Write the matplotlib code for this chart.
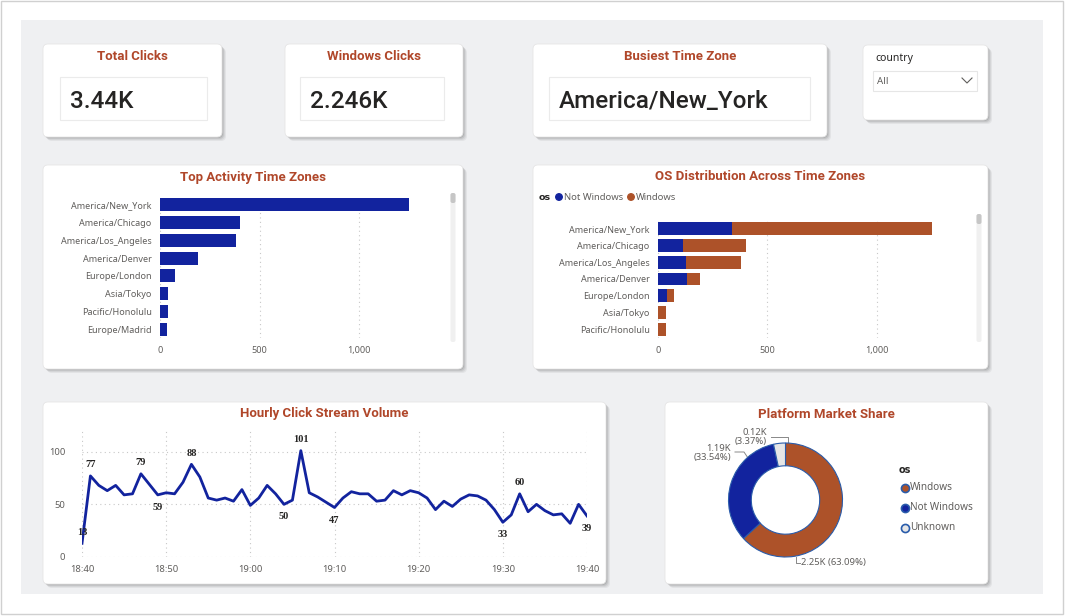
import matplotlib
matplotlib.use("Agg")
import matplotlib.pyplot as plt
from matplotlib.patches import FancyBboxPatch, Rectangle

W, H = 1065, 616

# ---- data ----
kpi_total = "3.44K"
kpi_windows = "2.246K"
kpi_busiest = "America/New_York"

zones = ["America/New_York", "America/Chicago", "America/Los_Angeles", "America/Denver",
         "Europe/London", "Asia/Tokyo", "Pacific/Honolulu", "Europe/Madrid"]
zone_clicks = [1249, 401, 381, 191, 75, 40, 40, 35]

os_zones = zones[:7]
not_windows = [338, 114, 128, 132, 41, 0, 0]
windows = [913, 288, 251, 60, 32, 37, 37]

minute_labels = ["18:40", "18:50", "19:00", "19:10", "19:20", "19:30", "19:40"]
clicks_per_min = [13, 77, 68, 63, 68, 59, 60, 79, 69, 59,
                  61, 60, 71, 88, 76, 56, 54, 56, 53, 64,
                  49, 56, 68, 60, 50, 54, 101, 61, 57, 52,
                  47, 56, 62, 60, 60, 53, 54, 63, 59, 63,
                  61, 56, 45, 53, 48, 55, 59, 58, 54, 45,
                  33, 40, 60, 43, 50, 44, 40, 41, 32, 50, 39]
# which points carry a data label, and on which side
labelled = {0: "above", 1: "above", 7: "above", 9: "below", 13: "above", 24: "below",
            26: "above", 30: "below", 50: "below", 52: "above", 60: "below"}

share_names = ["Windows", "Not Windows", "Unknown"]
share_vals = [2.25, 1.19, 0.12]
share_pct = [63.09, 33.54, 3.37]

ORANGE = "#AD5229"
BLUE = "#12239E"
TITLE = "#B0472A"
TICK = "#605E5C"
GRID = "#C8C8C8"

plt.rcParams["font.family"] = ["Noto Sans", "DejaVu Sans"]

fig = plt.figure(figsize=(W / 100, H / 100), dpi=100)
bg = fig.add_axes([0, 0, 1, 1])
bg.set_xlim(0, W)
bg.set_ylim(H, 0)
bg.axis("off")

bg.add_patch(Rectangle((1, 1), W - 3, H - 3, fc="white", ec="#D0D0D0", lw=1))
bg.add_patch(Rectangle((21, 20), 1022, 574, fc="#EFF0F2", ec="none"))


def px_axes(x0, y0, x1, y1):
    return fig.add_axes([x0 / W, 1 - y1 / H, (x1 - x0) / W, (y1 - y0) / H])


def card(x0, y0, x1, y1, title=None):
    for i, a in enumerate([0.05, 0.06, 0.08, 0.10]):
        off = 4 - i
        bg.add_patch(FancyBboxPatch((x0 + off, y0 + off), x1 - x0, y1 - y0,
                                    boxstyle="round,pad=0,rounding_size=5",
                                    fc="black", ec="none", alpha=a))
    bg.add_patch(FancyBboxPatch((x0, y0), x1 - x0, y1 - y0,
                                boxstyle="round,pad=0,rounding_size=5",
                                fc="white", ec="#E6E6E6", lw=0.6))
    if title:
        bg.text((x0 + x1) / 2, y0 + 12, title, color=TITLE, fontsize=9.5,
                fontweight="bold", family="Roboto", ha="center", va="center")


def kpi(x0, y0, x1, y1, title, value, bx0, bx1):
    card(x0, y0, x1, y1, title)
    bg.add_patch(Rectangle((bx0, 77), bx1 - bx0, 43, fc="white", ec="#EBEBEB", lw=0.8))
    bg.text(bx0 + 10, 102, value, fontsize=17.5, family="Roboto", fontweight="medium",
            color="#252423", ha="left", va="center")


kpi(43, 44, 222, 137, "Total Clicks", kpi_total, 60, 207)
kpi(285, 44, 463, 137, "Windows Clicks", kpi_windows, 300, 444)
kpi(533, 44, 827, 137, "Busiest Time Zone", kpi_busiest, 549, 810)

# slicer
card(863, 45, 988, 120)
bg.text(875, 58, "country", fontsize=7.5, color="#252423", va="center")
bg.add_patch(Rectangle((873, 71), 104, 20, fc="white", ec="#E6E6E6", lw=0.8))
bg.text(877, 82, "All", fontsize=7, color=TICK, va="center")
bg.plot([962, 967, 972], [78, 83, 78], color=TICK, lw=0.8)

# ---- Top Activity Time Zones ----
card(43, 165, 463, 369, "Top Activity Time Zones")
ax = px_axes(160, 196, 445, 338)
ax.patch.set_alpha(0)
ax.barh(range(len(zones)), zone_clicks, height=0.73, color=BLUE)
ax.set_ylim(len(zones) - 0.5, -0.5)
ax.set_xlim(0, 1430)
ax.set_xticks([0, 500, 1000])
ax.set_xticklabels(["0", "500", "1,000"])
ax.set_yticks(range(len(zones)))
ax.set_yticklabels(zones)
ax.grid(axis="x", color=GRID, ls=(0, (1, 3)), lw=0.8)
ax.set_axisbelow(True)
for s in ax.spines.values():
    s.set_visible(False)
ax.tick_params(length=0, labelsize=6.5, labelcolor=TICK, pad=6)
bg.add_patch(FancyBboxPatch((450.5, 193), 5, 149, boxstyle="round,pad=0,rounding_size=2",
                            fc="#F0F0F0", ec="none"))
bg.add_patch(FancyBboxPatch((450.5, 193), 5, 10, boxstyle="round,pad=0,rounding_size=2",
                            fc="#C6C6C6", ec="none"))

# ---- OS Distribution ----
card(533, 165, 988, 369, "OS Distribution Across Time Zones")
ax2 = px_axes(658, 220, 970, 338)
ax2.patch.set_alpha(0)
ax2.barh(range(len(os_zones)), not_windows, height=0.77, color=BLUE)
ax2.barh(range(len(os_zones)), windows, left=not_windows, height=0.77, color=ORANGE)
ax2.set_ylim(len(os_zones) - 0.5, -0.5)
ax2.set_xlim(0, 1425)
ax2.set_xticks([0, 500, 1000])
ax2.set_xticklabels(["0", "500", "1,000"])
ax2.set_yticks(range(len(os_zones)))
ax2.set_yticklabels(os_zones)
ax2.grid(axis="x", color=GRID, ls=(0, (1, 3)), lw=0.8)
ax2.set_axisbelow(True)
for s in ax2.spines.values():
    s.set_visible(False)
ax2.tick_params(length=0, labelsize=6.5, labelcolor=TICK, pad=6)
bg.add_patch(FancyBboxPatch((976.5, 214), 5, 128, boxstyle="round,pad=0,rounding_size=2",
                            fc="#F0F0F0", ec="none"))
bg.add_patch(FancyBboxPatch((976.5, 214), 5, 10, boxstyle="round,pad=0,rounding_size=2",
                            fc="#C6C6C6", ec="none"))
bg.text(539, 197, "os", fontsize=6.8, fontweight="bold", family="DejaVu Sans",
        color="#252423", va="center")
bg.scatter([559, 631], [197, 197], s=22, color=[BLUE, ORANGE], zorder=5)
bg.text(564, 197, "Not Windows", fontsize=6.8, color=TICK, va="center")
bg.text(636, 197, "Windows", fontsize=6.8, color=TICK, va="center")

# ---- Hourly Click Stream Volume ----
card(43, 402, 606, 584, "Hourly Click Stream Volume")
ax3 = px_axes(82, 430, 587, 557)
ax3.patch.set_alpha(0)
mins = list(range(len(clicks_per_min)))
ax3.plot(mins, clicks_per_min, color=BLUE, lw=2)
ax3.set_xlim(0, 60)
ax3.set_ylim(0, 120.6)
ax3.set_xticks(range(0, 61, 10))
ax3.set_xticklabels(minute_labels)
ax3.set_yticks([0, 50, 100])
ax3.grid(color=GRID, ls=(0, (1, 3)), lw=0.8)
ax3.set_axisbelow(True)
for s in ax3.spines.values():
    s.set_visible(False)
ax3.tick_params(length=0, labelsize=6.8, labelcolor=TICK)
ax3.tick_params(axis="y", pad=12)
ax3.tick_params(axis="x", pad=6)
for i, side in labelled.items():
    v = clicks_per_min[i]
    dy = 8 if side == "above" else -9
    ax3.annotate(str(v), (i, v), xytext=(0, dy), textcoords="offset points",
                 ha="center", va="center", fontsize=7.5, fontweight="bold",
                 family="Liberation Serif", color="#252423", clip_on=False)

# ---- Platform Market Share ----
card(665, 402, 988, 584, "Platform Market Share")
R = 57
ax4 = px_axes(785.5 - 70, 500 - 70, 785.5 + 70, 500 + 70)
ax4.pie(share_vals, colors=[ORANGE, BLUE, "#E6E6E6"], startangle=90, counterclock=False,
        radius=1, wedgeprops=dict(width=0.4, edgecolor="#2A5CAA", linewidth=0.8))
lim = 70 / R
ax4.set_xlim(-lim, lim)
ax4.set_ylim(-lim, lim)
ax4.set_aspect("equal")

lab_kw = dict(fontsize=6.8, color=TICK)
bg.plot([788, 788, 771], [443, 437, 437], color="#888888", lw=0.7)
bg.text(767, 437, f"{share_vals[2]:.2f}K\n({share_pct[2]:.2f}%)", ha="right", va="center",
        linespacing=1.1, **lab_kw)
bg.plot([748, 744, 735], [458, 452, 452], color="#888888", lw=0.7)
bg.text(731, 453, f"{share_vals[1]:.2f}K\n({share_pct[1]:.2f}%)", ha="right", va="center",
        linespacing=1.1, **lab_kw)
bg.plot([796, 796, 800], [557, 563, 563], color="#888888", lw=0.7)
bg.text(801, 563, f"{share_vals[0]:.2f}K ({share_pct[0]:.2f}%)", ha="left", va="center",
        **lab_kw)

bg.text(899, 470, "os", fontsize=7, fontweight="bold", family="DejaVu Sans",
        color="#252423", va="center")
for k, (name, col) in enumerate(zip(share_names, [ORANGE, BLUE, "#E6E6E6"])):
    yy = 488 + k * 20
    bg.scatter([905], [yy], s=34, color=col, edgecolor="#2A5CAA", lw=1.2, zorder=5)
    bg.text(910, yy, name, fontsize=7.2, color=TICK, va="center")

fig.savefig("out.png", dpi=100)
